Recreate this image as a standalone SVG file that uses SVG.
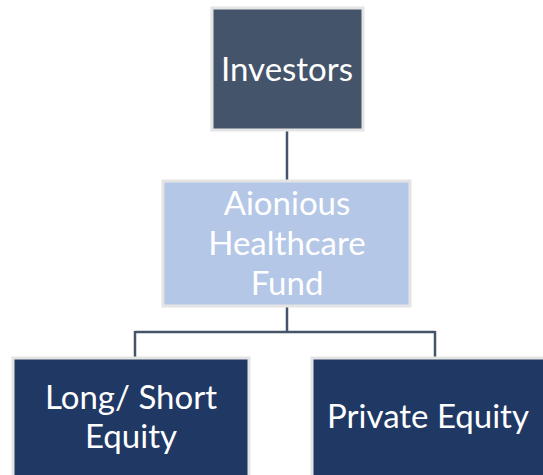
<svg xmlns="http://www.w3.org/2000/svg" width="543" height="475" viewBox="0 0 543 475">
<style>
.box{stroke:#e4e4e4;stroke-width:3}
.t{font-family:Lato,"Liberation Sans",sans-serif;fill:#ffffff;text-anchor:middle;font-size:33px}
.c{fill:none;stroke:#44546a;stroke-width:2.5}
</style>
<rect width="543" height="475" fill="#ffffff"/>
<g id="connectors">
<path class="c" d="M287 130 V181"/>
<path class="c" d="M287 306 V332 M135 332 H435 M135 331 V358 M435 331 V358"/>
</g>
<g id="investors">
<rect class="box" x="212" y="8" width="151" height="122" fill="#44546a"/>
<text class="t" x="287" y="81">Investors</text>
</g>
<g id="fund">
<rect class="box" x="163" y="181" width="247" height="125" fill="#b4c7e7"/>
<text class="t" x="287" y="215">Aionious</text>
<text class="t" x="287" y="255">Healthcare</text>
<text class="t" x="287" y="295">Fund</text>
</g>
<g id="longshort">
<rect class="box" x="13" y="358" width="236" height="130" fill="#203864"/>
<text class="t" x="131" y="409">Long/ Short</text>
<text class="t" x="131" y="448">Equity</text>
</g>
<g id="private">
<rect class="box" x="312" y="358" width="245" height="130" fill="#203864"/>
<text class="t" x="428" y="428" font-size="34">Private Equity</text>
</g>
</svg>
